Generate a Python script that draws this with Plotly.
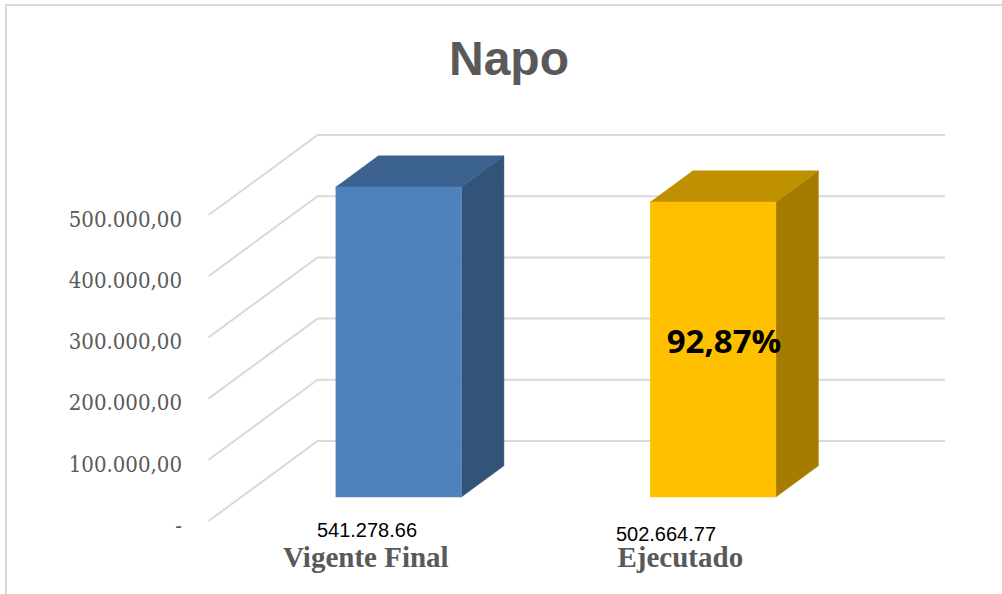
import plotly.graph_objects as go

# --- data ---
categories = ["Vigente Final", "Ejecutado"]
bar_values = [506500, 482000]          # bar heights as read against the axis
data_labels = ["541.278.66", "502.664.77"]
tick_values = [0, 100000, 200000, 300000, 400000, 500000]
tick_labels = ["-", "100.000,00", "200.000,00", "300.000,00", "400.000,00", "500.000,00"]
title_text = "Napo"
percent_text = "92,87%"
front_colors = ["#4f81bd", "#ffc000"]
side_colors = ["#325479", "#a57c00"]
top_colors = ["#3c6390", "#bf9000"]

# --- oblique projection of the 3-D box ---
W, H = 1002, 594
PX_PER_CAT = 314.5
PX_PER_VAL = 306 / 500000
X0_PX, Y0_PX = 365.8, 521
DEPTH_X = 109 / PX_PER_CAT
DEPTH_Y = 80 / PX_PER_VAL
BAR_W = 0.4
D_FRONT, D_BACK = 0.3, 0.69
GRID = "#d9d9d9"


def proj(cat, val, depth):
    return cat + depth * DEPTH_X, val + depth * DEPTH_Y


def px_to_data(px, py):
    return (px - X0_PX) / PX_PER_CAT, (Y0_PX - py) / PX_PER_VAL


fig = go.Figure()

# gridlines: floor/side diagonal, then along the back wall
for v in tick_values:
    pts = [proj(-0.5, v, 0), proj(-0.5, v, 1), proj(1.495, v, 1)]
    fig.add_trace(go.Scatter(x=[p[0] for p in pts], y=[p[1] for p in pts], mode="lines",
                             line=dict(color=GRID, width=2), hoverinfo="skip", showlegend=False))


def face(pts, color):
    fig.add_trace(go.Scatter(x=[p[0] for p in pts], y=[p[1] for p in pts], mode="lines",
                             fill="toself", fillcolor=color, line=dict(color=color, width=0.5),
                             hoverinfo="skip", showlegend=False))


for i, v in enumerate(bar_values):
    l, r = i - BAR_W / 2, i + BAR_W / 2
    face([proj(r, 0, D_FRONT), proj(r, 0, D_BACK), proj(r, v, D_BACK), proj(r, v, D_FRONT)], side_colors[i])
    face([proj(l, v, D_FRONT), proj(r, v, D_FRONT), proj(r, v, D_BACK), proj(l, v, D_BACK)], top_colors[i])
    face([proj(l, 0, D_FRONT), proj(r, 0, D_FRONT), proj(r, v, D_FRONT), proj(l, v, D_FRONT)], front_colors[i])


def label(px, py, text, font):
    x, y = px_to_data(px, py)
    fig.add_trace(go.Scatter(x=[x], y=[y], mode="text", text=[text], textposition="middle center",
                             textfont=font, hoverinfo="skip", showlegend=False, cliponaxis=False))


label(367, 532, data_labels[0], dict(family="Liberation Sans", size=20, color="black"))
label(666, 536, data_labels[1], dict(family="Liberation Sans", size=20, color="black"))
label(724, 345, percent_text, dict(family="Open Sans", size=33, color="black", weight="bold"))

xrange = [-X0_PX / PX_PER_CAT, (W - X0_PX) / PX_PER_CAT]
yrange = [-(H - Y0_PX) / PX_PER_VAL, Y0_PX / PX_PER_VAL]

fig.update_layout(
    width=W, height=H,
    margin=dict(l=0, r=0, t=0, b=0),
    paper_bgcolor="white", plot_bgcolor="white",
    showlegend=False,
    title=dict(text=title_text, x=509 / W, xanchor="center", y=1 - 58 / H, yanchor="middle",
               font=dict(family="Liberation Sans", size=48, color="#595959", weight="bold")),
    xaxis=dict(range=xrange, domain=[0, 1], anchor="free", position=(H - 537) / H,
               tickmode="array", tickvals=list(range(len(categories))), ticktext=categories,
               showgrid=False, zeroline=False, showline=False, ticks="",
               tickfont=dict(family="Liberation Serif", size=29, color="#595959", weight="bold")),
    yaxis=dict(range=yrange, domain=[0, 1], anchor="free", position=182 / W,
               tickmode="array", tickvals=tick_values, ticktext=tick_labels,
               ticklabelshift=4,
               showgrid=False, zeroline=False, showline=False, ticks="",
               tickfont=dict(family="DejaVu Serif Condensed", size=22, color="#595959")),
    shapes=[
        dict(type="line", xref="paper", yref="paper", x0=6 / W, x1=6 / W, y0=0, y1=1 - 5 / H,
             line=dict(color=GRID, width=2)),
        dict(type="line", xref="paper", yref="paper", x0=5 / W, x1=1, y0=1 - 5 / H, y1=1 - 5 / H,
             line=dict(color=GRID, width=2)),
    ],
)

fig.write_html("out.html", config=dict(displayModeBar=False),
               post_script="document.body.style.margin='0';")
